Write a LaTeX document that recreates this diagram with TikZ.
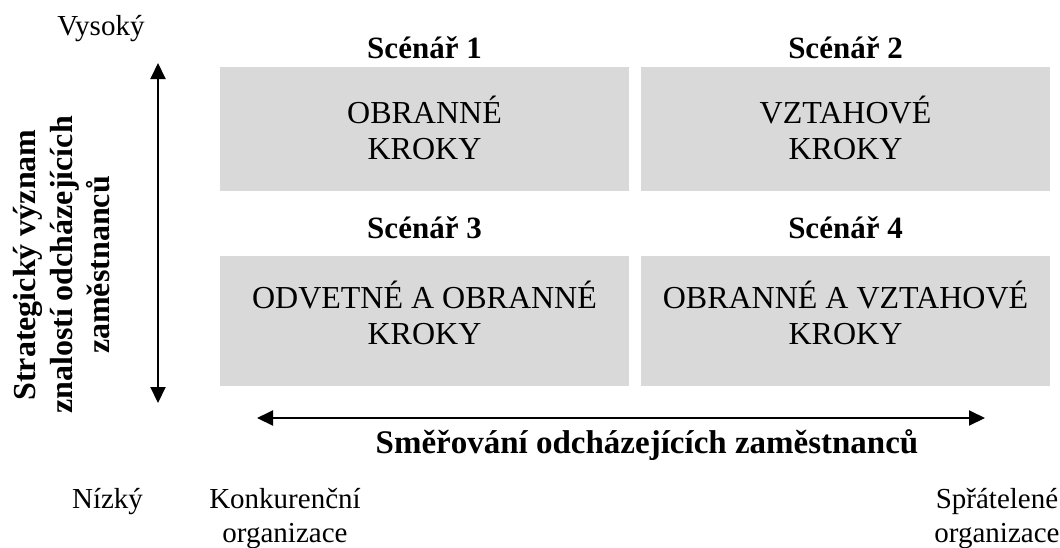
\documentclass[tikz,border=0pt]{standalone}
\usepackage{fontspec}
\setmainfont{Liberation Serif}
\usetikzlibrary{arrows.meta}
\definecolor{boxgray}{HTML}{D9D9D9}
\begin{document}
\begin{tikzpicture}[x=0.5pt,y=-0.5pt,
  quad/.style={fill=boxgray, inner sep=0pt, minimum width=204.5pt},
  quadtext/.style={anchor=base, inner sep=0pt, align=center,
    font=\fontsize{16}{18}\selectfont},
  scen/.style={anchor=base, inner sep=0pt, font=\fontsize{15.5}{18}\selectfont\bfseries},
  axislabel/.style={anchor=base, inner sep=0pt, align=center,
    font=\fontsize{14.5}{17}\selectfont},
  axisarrow/.style={line width=1pt, {Triangle[length=8pt,width=7.5pt]}-{Triangle[length=8pt,width=7.5pt]}}
]
\useasboundingbox (0,0) rectangle (1060,547);

% four scenario boxes
\node[quad, minimum height=62pt] (s1) at (424.5,129) {};
\node[quad, minimum height=62pt] (s2) at (845.5,129) {};
\node[quad, minimum height=65pt] (s3) at (424.5,321) {};
\node[quad, minimum height=65pt] (s4) at (845.5,321) {};

% box contents (base = baseline of the last line)
\node[quadtext] (t1) at (s1.center |- 0,159) {OBRANNÉ\\KROKY};
\node[quadtext] (t2) at (s2.center |- 0,159) {VZTAHOVÉ\\KROKY};
\node[quadtext] (t3) at (s3.center |- 0,344) {ODVETNÉ A OBRANNÉ\\KROKY};
\node[quadtext] (t4) at (s4.center |- 0,344) {OBRANNÉ A VZTAHOVÉ\\KROKY};

% scenario headings
\node[scen] (h1) at (424.5,58) {Scénář 1};
\node[scen] (h2) at (845.5,58) {Scénář 2};
\node[scen] (h3) at (424.5,238) {Scénář 3};
\node[scen] (h4) at (845.5,238) {Scénář 4};

% vertical axis
\coordinate (vtop) at (158,63);
\coordinate (vbot) at (158,403);
\draw[axisarrow] (vbot) -- (vtop);
\node[axislabel] (high) at (101,35) {Vysoký};
\node[axislabel] (low) at (107.5,508) {Nízký};
\node[rotate=90, align=center, inner sep=0pt,
  font=\fontsize{16}{18.5}\selectfont\bfseries] (vtitle) at (62,265)
  {Strategický význam\\znalostí odcházejících\\zaměstnanců};

% horizontal axis
\coordinate (hleft) at (257,418);
\coordinate (hright) at (985,418);
\draw[axisarrow] (hleft) -- (hright);
\node[anchor=base, inner sep=0pt, font=\fontsize{16.5}{19}\selectfont\bfseries]
  (htitle) at (647,453) {Směřování odcházejících zaměstnanců};
\node[axislabel] (rival) at (285,542) {Konkurenční\\organizace};
\node[axislabel] (friend) at (997,542) {Spřátelené\\organizace};
\end{tikzpicture}
\end{document}
